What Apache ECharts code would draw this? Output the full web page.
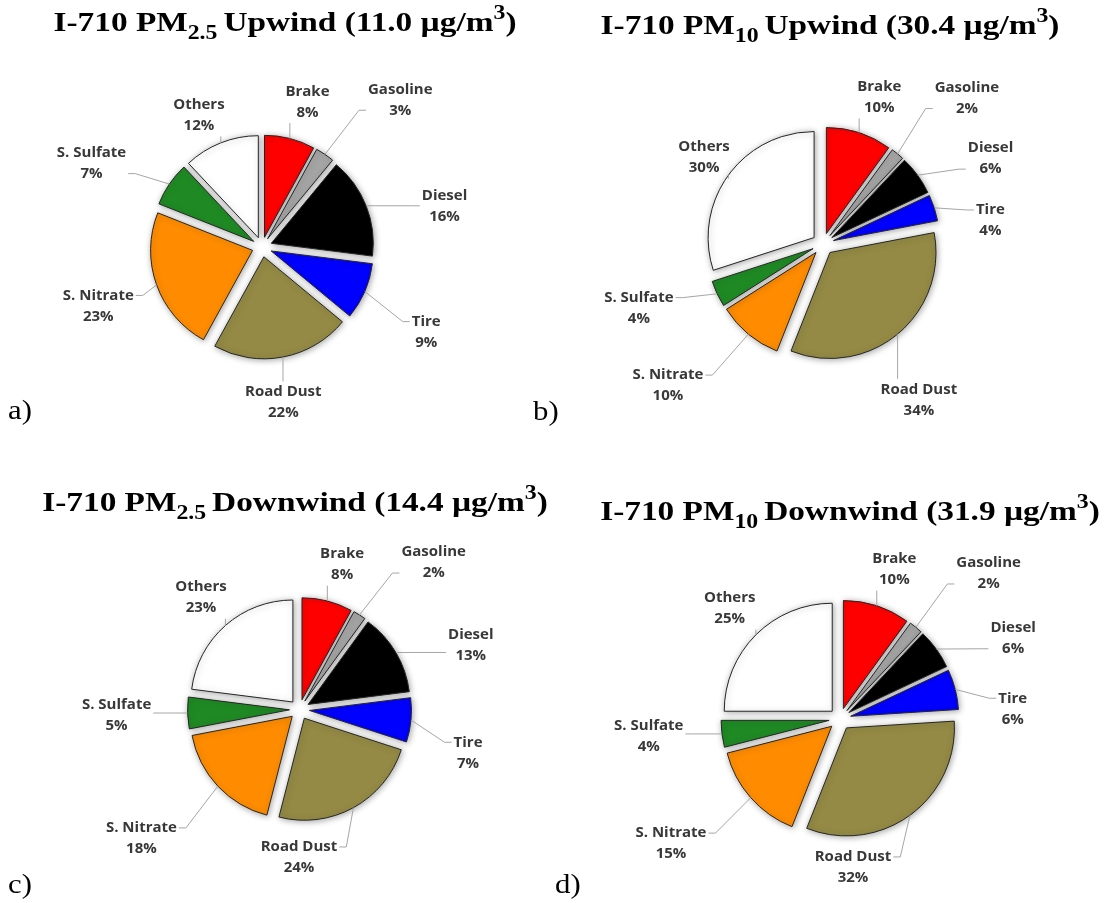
<!DOCTYPE html>
<html>
<head>
<meta charset="utf-8">
<script src="https://cdn.jsdelivr.net/npm/echarts@6/dist/echarts.min.js"></script>
<style>
html,body{margin:0;padding:0;background:#ffffff;}
#chart{width:1104px;height:903px;}
</style>
</head>
<body>
<div id="chart"></div>
<script>
// ---------------- DATA ----------------
const categories = ['Brake', 'Gasoline', 'Diesel', 'Tire', 'Road Dust', 'S. Nitrate', 'S. Sulfate', 'Others'];
const pm25Upwind   = [8, 3, 16, 9, 22, 23, 7, 12];
const pm10Upwind   = [10, 2, 6, 4, 34, 10, 4, 30];
const pm25Downwind = [8, 2, 13, 7, 24, 18, 5, 23];
const pm10Downwind = [10, 2, 6, 6, 32, 15, 4, 25];
const sizeFractions = ['2.5', '10', '2.5', '10'];
const sites = ['Upwind', 'Upwind', 'Downwind', 'Downwind'];
const concentrations = ['11.0', '30.4', '14.4', '31.9'];
const panelLetters = ['a)', 'b)', 'c)', 'd)'];

// ---------------- STYLE / LAYOUT ----------------
const sliceColors = ['#ff0000', '#a5a5a5', '#000000', '#0000ff', '#948a45', '#ff8c00', '#1f8a24', '#ffffff'];

const panelLayout = [
  { center: [262, 247], r: 102, off: 10, titleX: 285, titleTop: 4, letterPos: [8, 396],
    labelDist: [50, 100, 85, 83, 55, 72, 88, 44], labelNudge: [3, 9, 9, 4, 3, 0, -8, -4] },
  { center: [823, 244], r: 106, off: 11, titleX: 830, titleTop: 7, letterPos: [533, 397],
    labelDist: [51, 99, 82, 63, 77, 104, 89, 41], labelNudge: [3, 5, 9, 10, 8, 8, 6, 0] },
  { center: [299.5, 709.5], r: 102, off: 10, titleX: 295, titleTop: 484, letterPos: [8, 870],
    labelDist: [49, 97, 81, 72, 46, 102, 81, 47], labelNudge: [2, 10, 10, 9, 29, 4, 0, 0] },
  { center: [840, 719], r: 108, off: 11, titleX: 850, titleTop: 493, letterPos: [555, 870],
    labelDist: [51, 100, 83, 65, 41, 102, 84, 48], labelNudge: [2, 6, 11, 11, 31, 5, 2, 0] }
];
const panelValues = [pm25Upwind, pm10Upwind, pm25Downwind, pm10Downwind];
const titleStretch = 1.19;

// ---------------- BUILD ----------------
const rad = d => d * Math.PI / 180;
function midAngles(values) {
  const total = values.reduce((a, b) => a + b, 0);
  let acc = 0;
  return values.map(v => { const m = (acc + v / 2) / total * 360; acc += v; return m; });
}

function labelLayoutFor(p, values) {
  const mids = midAngles(values);
  return function (params) {
    const i = params.dataIndex;
    const w = params.labelRect.width, h = params.labelRect.height;
    const la = rad(mids[i] + p.labelNudge[i]);
    const lr = p.r + p.labelDist[i];
    const lx = p.center[0] + lr * Math.sin(la);
    const ly = p.center[1] - lr * Math.cos(la);
    const ma = rad(mids[i]);
    const sr = p.r + p.off;
    const sx = p.center[0] + sr * Math.sin(ma);
    const sy = p.center[1] - sr * Math.cos(ma);
    const L = lx - w / 2 - 2, R = lx + w / 2 + 2, T = ly - h / 2, B = ly + h / 2;
    let pts;
    if (sx >= L && sx <= R) {
      pts = [[sx, sy], [sx, sy < T ? T : B]];
    } else {
      const ex = sx < L ? L : R;
      const ey = Math.min(Math.max(sy, T + h * 0.25), B - h * 0.25);
      const elbow = ex + (sx < L ? -7 : 7);
      pts = [[sx, sy], [elbow, ey], [ex, ey]];
    }
    return { x: lx, y: ly, align: 'center', verticalAlign: 'middle', labelLinePoints: pts };
  };
}

const series = [];
const graphics = [];
panelLayout.forEach((p, k) => {
  const values = panelValues[k];
  const sliceBorder = { borderColor: '#262626', borderWidth: 1, shadowBlur: 6, shadowColor: 'rgba(0,0,0,0.35)', shadowOffsetX: 1, shadowOffsetY: 1 };
  series.push({
    type: 'pie',
    center: p.center,
    radius: p.r,
    startAngle: 90,
    clockwise: true,
    selectedMode: 'multiple',
    selectedOffset: p.off,
    animation: false,
    silent: true,
    label: { show: false },
    labelLine: { show: false },
    itemStyle: sliceBorder,
    emphasis: { disabled: true },
    select: { itemStyle: sliceBorder },
    data: categories.map((c, i) => ({ name: c, value: values[i], selected: true, itemStyle: { color: sliceColors[i] } }))
  });
  series.push({
    type: 'pie',
    center: p.center,
    radius: p.r,
    startAngle: 90,
    clockwise: true,
    animation: false,
    silent: true,
    avoidLabelOverlap: false,
    minShowLabelAngle: 0,
    z: 5,
    itemStyle: { color: 'rgba(0,0,0,0)', borderWidth: 0 },
    emphasis: { disabled: true },
    label: {
      show: true, position: 'outside',
      formatter: '{b}\n{c}%',
      fontFamily: 'Open Sans', fontWeight: 'bold', fontSize: 15, lineHeight: 21,
      color: '#383838'
    },
    labelLine: { show: true, lineStyle: { color: '#a6a6a6', width: 1 } },
    labelLayout: labelLayoutFor(p, values),
    data: categories.map((c, i) => ({ name: c, value: values[i] }))
  });
  graphics.push({
    type: 'text',
    x: p.titleX, y: p.titleTop,
    scaleX: titleStretch, scaleY: 1,
    silent: true,
    style: {
      text: 'I-710 PM{s|' + sizeFractions[k] + ' }' + sites[k] + ' (' + concentrations[k] + ' µg/m{p|3})',
      fontFamily: 'Liberation Serif', fontWeight: 'bold', fontSize: 28, lineHeight: 40,
      fill: '#000', align: 'center', verticalAlign: 'top',
      rich: {
        s: { fontFamily: 'Liberation Serif', fontWeight: 'bold', fontSize: 20, fill: '#000', lineHeight: 26, verticalAlign: 'bottom' },
        p: { fontFamily: 'Liberation Serif', fontWeight: 'bold', fontSize: 20, fill: '#000', lineHeight: 38, verticalAlign: 'top' }
      }
    }
  });
  graphics.push({
    type: 'text',
    x: p.letterPos[0], y: p.letterPos[1],
    scaleX: 1.1, scaleY: 1,
    silent: true,
    style: {
      text: panelLetters[k],
      fontFamily: 'Liberation Serif', fontWeight: 'normal', fontSize: 28, lineHeight: 32,
      fill: '#000', align: 'left', verticalAlign: 'top'
    }
  });
});

const chart = echarts.init(document.getElementById('chart'), null, { renderer: 'canvas' });
chart.setOption({
  backgroundColor: '#ffffff',
  animation: false,
  graphic: { elements: graphics },
  series: series
});
</script>
</body>
</html>
